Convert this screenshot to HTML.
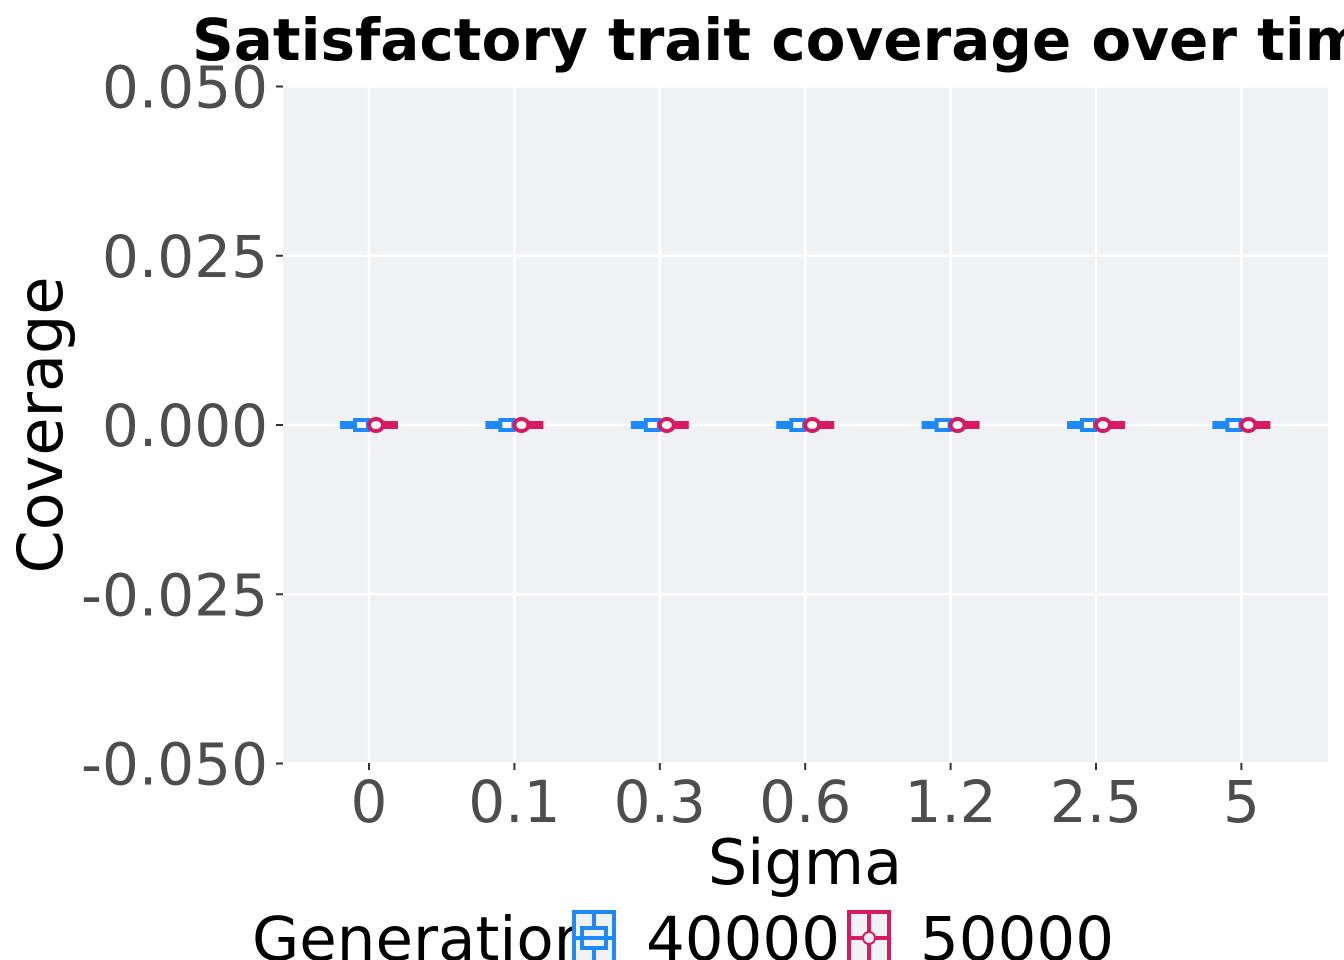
<!DOCTYPE html>
<html><head><meta charset="utf-8"><style>
html,body{margin:0;padding:0;background:#fff;overflow:hidden;}
svg{display:block;font-family:"DejaVu Sans","Liberation Sans",sans-serif;}
</style></head><body>
<svg id="chart" width="1344" height="960" viewBox="0 0 1344 960">
<rect x="283" y="86" width="1045" height="677" fill="#f0f1f5"/>
<g id="grid"></g><g id="axes"></g><g id="marks"></g>
<text x="192" y="60" font-size="58" font-weight="bold" fill="#000">Satisfactory trait coverage over time</text>
<text x="805" y="884" font-size="62" text-anchor="middle" fill="#000">Sigma</text>
<text transform="translate(62,425) rotate(-90)" font-size="62" text-anchor="middle" fill="#000">Coverage</text>
<g>
<text x="252" y="960" font-size="61" fill="#000">Generation</text>
<g>
<rect x="574" y="912" width="40" height="50" fill="#f2f2f2" stroke="#1e88ff" stroke-width="4"/>
<line x1="594" y1="912" x2="594" y2="960" stroke="#1e88ff" stroke-width="4"/>
<rect x="582" y="928" width="24" height="20" fill="#f2f2f2" stroke="#1e88ff" stroke-width="4"/>
<line x1="576" y1="938" x2="612" y2="938" stroke="#1e88ff" stroke-width="4"/>
<text x="646" y="960" font-size="61" fill="#000">40000</text></g>
<g>
<rect x="849" y="912" width="40" height="50" fill="#f2f2f2" stroke="#d81b60" stroke-width="4"/>
<line x1="869" y1="912" x2="869" y2="960" stroke="#d81b60" stroke-width="4"/>
<line x1="851" y1="938" x2="887" y2="938" stroke="#d81b60" stroke-width="4"/>
<circle cx="869" cy="938" r="6" fill="#f2f2f2" stroke="#d81b60" stroke-width="2"/>
<text x="920" y="960" font-size="61" fill="#000">50000</text></g>
</g>
</svg>
<script>
const categories=["0","0.1","0.3","0.6","1.2","2.5","5"];
const yTicks=[0.05,0.025,0,-0.025,-0.05];
const yTickLabels=["0.050","0.025","0.000","-0.025","-0.050"];
const gen40000=[0,0,0,0,0,0,0];
const gen50000=[0,0,0,0,0,0,0];
const NS="http://www.w3.org/2000/svg";
function X(i){return 369+i*145.4;}
function Y(v){return 425-v*6770;}
function mk(t,a,p){const e=document.createElementNS(NS,t);for(const k in a)e.setAttribute(k,a[k]);p.appendChild(e);return e;}
const grid=document.getElementById('grid'),axes=document.getElementById('axes'),marks=document.getElementById('marks');
yTicks.forEach((v,i)=>{
 const g=mk('line',{x1:283,x2:1328,y1:Y(v),y2:Y(v),stroke:'#fff','stroke-width':2.5},grid);
 
 
 mk('line',{x1:276,x2:283,y1:Y(v),y2:Y(v),stroke:'#333','stroke-width':2},axes);
 const t=mk('text',{x:268,y:Y(v)+21,'font-size':58,'text-anchor':'end',fill:'#4d4d4d'},axes);
 t.textContent=yTickLabels[i];
 
 
});
categories.forEach((c,i)=>{
 const g=mk('line',{x1:X(i),x2:X(i),y1:86,y2:763,stroke:'#fff','stroke-width':2.5},grid);
 
 
 mk('line',{x1:X(i),x2:X(i),y1:763,y2:770,stroke:'#333','stroke-width':2},axes);
 const t=mk('text',{x:X(i),y:822,'font-size':58,'text-anchor':'middle',fill:'#4d4d4d'},axes);
 t.textContent=c;
 
 
 const b=mk('g',{},marks);
 
 
 const yb=Y(gen40000[i]);
 mk('line',{x1:X(i)-29,x2:X(i)+2,y1:yb,y2:yb,stroke:'#1e88ff','stroke-width':8},b);
 mk('rect',{x:X(i)-14,y:yb-5,width:13,height:10,fill:'#fff',stroke:'#1e88ff','stroke-width':4},b);
 const r=mk('g',{},marks);
 
 
 const yr=Y(gen50000[i]);
 mk('line',{x1:X(i),x2:X(i)+29,y1:yr,y2:yr,stroke:'#d81b60','stroke-width':8},r);
 mk('ellipse',{cx:X(i)+7,cy:yr,rx:7,ry:6,fill:'#fff',stroke:'#d81b60','stroke-width':4},r);
});
</script>
</body></html>
